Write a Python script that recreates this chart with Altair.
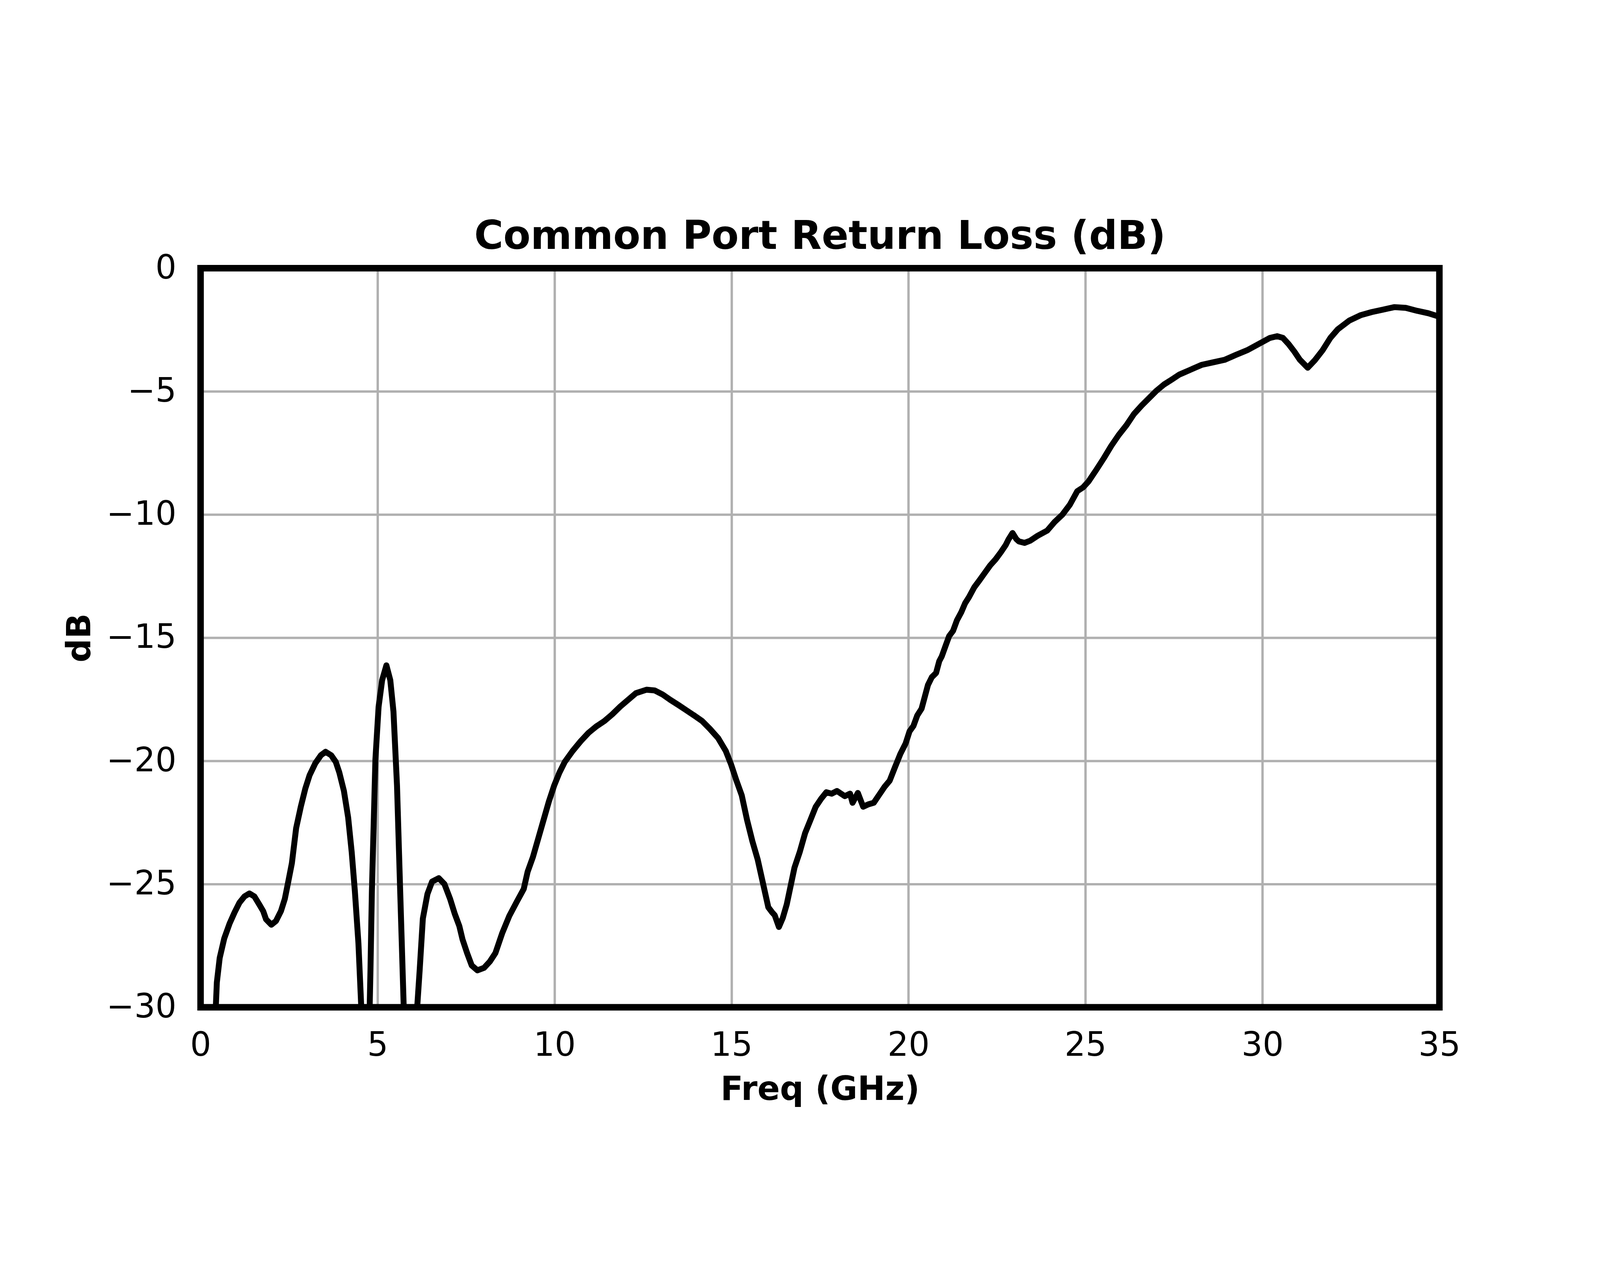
import altair as alt
import pandas as pd

# Frequency (GHz) and common-port return loss (dB)
freq_ghz = [
    0.10, 0.30, 0.43, 0.46, 0.54, 0.67, 0.82, 0.96, 1.10, 1.24, 1.38, 1.52, 1.66, 1.77,
    1.85, 2.00, 2.13, 2.27, 2.38, 2.47, 2.58, 2.70, 2.83, 2.96, 3.08, 3.24, 3.40, 3.53,
    3.69, 3.82, 3.92,
    4.05, 4.17, 4.27, 4.36, 4.46, 4.54, 4.62, 4.68, 4.74, 4.80, 4.84, 4.94, 5.03, 5.13,
    5.25, 5.36, 5.45, 5.55, 5.64, 5.74, 5.82, 5.92, 6.00, 6.07, 6.12, 6.19, 6.28, 6.41,
    6.54, 6.73, 6.89, 7.05, 7.18, 7.31, 7.40, 7.53, 7.66, 7.82, 8.01, 8.17, 8.33, 8.52,
    8.72, 8.94, 9.13, 9.24, 9.39, 9.54, 9.69, 9.84, 9.99, 10.14, 10.29, 10.51, 10.74,
    10.96, 11.18, 11.41, 11.63, 11.86, 12.08, 12.30, 12.60, 12.83, 13.05, 13.27, 13.50,
    13.72, 13.95, 14.17, 14.39, 14.62, 14.84, 14.99, 15.14, 15.29, 15.44, 15.59, 15.74,
    15.89, 16.04, 16.15, 16.22, 16.34, 16.45, 16.56, 16.67, 16.78, 16.93, 17.08, 17.23,
    17.38, 17.53, 17.68, 17.83, 17.98, 18.20, 18.35, 18.42, 18.57, 18.72, 18.87, 19.02,
    19.17, 19.32, 19.47, 19.62, 19.77, 19.92, 20.03, 20.14, 20.25, 20.37, 20.46, 20.55,
    20.66, 20.78, 20.87, 20.94, 21.04, 21.15, 21.26, 21.37, 21.49, 21.60, 21.71, 21.86,
    22.00, 22.16, 22.31, 22.46, 22.61, 22.75, 22.83, 22.94, 23.05, 23.12, 23.28, 23.44,
    23.65, 23.92, 24.13, 24.35, 24.56, 24.77, 24.93, 25.09, 25.30, 25.52, 25.73, 25.94,
    26.16, 26.37, 26.59, 26.80, 27.01, 27.22, 27.44, 27.65, 27.97, 28.29, 28.61, 28.93,
    29.25, 29.57, 29.89, 30.21, 30.42, 30.58, 30.74, 30.90, 31.06, 31.28, 31.49, 31.70,
    31.92, 32.13, 32.45, 32.77, 33.09, 33.41, 33.73, 34.05, 34.37, 34.69, 35.00,
]
return_loss_db = [
    -33.5, -32.0, -30.0, -28.99, -28.00, -27.20, -26.60, -26.15, -25.75, -25.50, -25.38,
    -25.50, -25.83, -26.10, -26.43, -26.65, -26.50, -26.10, -25.60, -24.96, -24.15,
    -22.73, -21.87, -21.12, -20.58, -20.10, -19.77, -19.63, -19.77, -20.04, -20.47,
    -21.22, -22.30, -23.70,
    -25.30, -27.40, -30.0, -32.5, -33.8, -32.5, -28.5, -25.30, -19.93, -17.80, -16.72,
    -16.12, -16.72, -18.00, -21.00, -25.30, -30.0, -33.0, -33.8, -33.8, -32.0, -30.0,
    -28.50, -26.40, -25.40, -24.90, -24.76, -25.00, -25.60, -26.20, -26.70, -27.24,
    -27.80, -28.30, -28.50, -28.40, -28.15, -27.80, -27.00, -26.30, -25.70, -25.20,
    -24.50, -23.90, -23.15, -22.40, -21.65, -21.00, -20.47, -20.04, -19.60, -19.20,
    -18.86, -18.60, -18.38, -18.11, -17.79, -17.52, -17.25, -17.11, -17.14, -17.30,
    -17.52, -17.73, -17.94, -18.16, -18.38, -18.70, -19.07, -19.60, -20.15, -20.80,
    -21.40, -22.40, -23.26, -24.00, -24.97, -25.94, -26.15, -26.26, -26.74, -26.37,
    -25.83, -25.08, -24.33, -23.69, -22.93, -22.40, -21.86, -21.54, -21.27, -21.33,
    -21.22, -21.43, -21.33, -21.70, -21.30, -21.86, -21.76, -21.70, -21.38, -21.06,
    -20.80, -20.25, -19.72, -19.29, -18.80, -18.58, -18.15, -17.88, -17.40, -16.92,
    -16.60, -16.43, -15.95, -15.76, -15.36, -14.93, -14.72, -14.29, -13.97, -13.60,
    -13.35, -12.95, -12.68, -12.36, -12.06, -11.82, -11.53, -11.23, -11.00, -10.75,
    -11.00, -11.09, -11.15, -11.06, -10.86, -10.65, -10.30, -10.00, -9.60, -9.05, -8.90,
    -8.65, -8.20, -7.71, -7.21, -6.77, -6.37, -5.92, -5.57, -5.27, -4.97, -4.72, -4.52,
    -4.32, -4.12, -3.92, -3.82, -3.72, -3.52, -3.33, -3.08, -2.83, -2.76, -2.83, -3.08,
    -3.38, -3.72, -4.04, -3.72, -3.33, -2.83, -2.48, -2.13, -1.91, -1.78, -1.68, -1.58,
    -1.61, -1.73, -1.83, -1.97,
]

x_ticks = [0, 5, 10, 15, 20, 25, 30, 35]
y_ticks = [-30, -25, -20, -15, -10, -5, 0]
chart_title = "Common Port Return Loss (dB)"

df = pd.DataFrame({"freq": freq_ghz, "db": return_loss_db})

FONT = "DejaVu Sans"

x_scale = alt.Scale(domain=[0, 35], nice=False, zero=False)
y_scale = alt.Scale(domain=[-30, 0], nice=False, zero=False)

x_axis = alt.Axis(
    values=x_ticks, format="d", title="Freq (GHz)", grid=True, gridColor="#b0b0b0",
    gridWidth=8, ticks=False, tickSize=0, domain=False, labelFlush=False,
    labelOverlap=False, labelLimit=1000,
    labelFont=FONT, labelFontSize=112, labelColor="black", labelPadding=163,
    labelBaseline="alphabetic",
    titleFont=FONT, titleFontSize=112, titleFontWeight="bold", titleColor="black",
    titleBaseline="alphabetic", titleY=313,
)
y_axis = alt.Axis(
    values=y_ticks, format="d", title="dB", grid=True, gridColor="#b0b0b0", gridWidth=8,
    ticks=False, tickSize=0, domain=False, labelOverlap=False, labelLimit=1000,
    labelFont=FONT, labelFontSize=112, labelColor="black", labelPadding=82,
    titleFont=FONT, titleFontSize=112, titleFontWeight="bold", titleColor="black",
    titleBaseline="alphabetic", titleX=-373, titleY=1248, titleAngle=270,
    titleAlign="center",
)

line = alt.Chart(df).mark_line(
    color="black", strokeWidth=20, clip=True, strokeJoin="round", strokeCap="round"
).encode(
    x=alt.X("freq:Q", scale=x_scale, axis=x_axis),
    y=alt.Y("db:Q", scale=y_scale, axis=y_axis),
)

frame = alt.Chart(alt.Data(values=[{}])).mark_rect(
    filled=False, stroke="black", strokeWidth=22
).encode(
    x=alt.datum(0, scale=x_scale),
    x2=alt.datum(35),
    y=alt.datum(-30, scale=y_scale),
    y2=alt.datum(0),
)

title = alt.Chart(alt.Data(values=[{"t": chart_title}])).mark_text(
    font=FONT, fontSize=134, fontWeight="bold", color="black",
    align="center", baseline="alphabetic",
).encode(
    x=alt.datum(17.5, scale=x_scale),
    y=alt.value(-65),
    text="t:N",
)

chart = alt.layer(line, frame, title).properties(
    width=5384,
    height=3224,
    autosize=alt.AutoSizeParams(type="fit", contains="padding"),
    padding={"left": 204, "top": 208, "right": 460, "bottom": 13},
).configure_view(stroke=None)

chart.save("out.html", embed_options={"renderer": "svg", "actions": False})
